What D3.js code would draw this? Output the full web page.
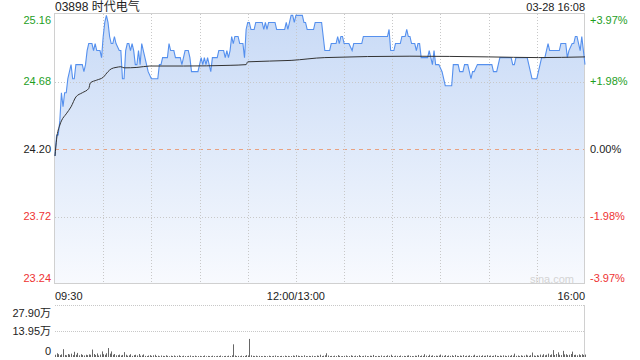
<!DOCTYPE html>
<html>
<head>
<meta charset="utf-8">
<script src="https://cdn.jsdelivr.net/npm/d3@7"></script>
<style>
  body { margin: 0; background: #fff; }
  svg text { font-family: "Liberation Sans", Arial, "Noto Sans CJK SC", sans-serif; }
</style>
</head>
<body>
<svg id="chart" width="640" height="360"></svg>
<script>
// quote
var title = "03898 时代电气";
var stamp = "03-28 16:08";
var prevClose = 24.2;

// price axis
var priceTicks = [25.16, 24.68, 24.2, 23.72, 23.24];
var pctTicks = ["+3.97%", "+1.98%", "0.00%", "-1.98%", "-3.97%"];

// time axis
var timeLabels = ["09:30", "12:00/13:00", "16:00"];
var timeLabelAt = ["09:30", "12:00", "16:00"];
var gridTimes = ["10:00", "10:30", "11:00", "11:30", "12:00", "13:30", "14:00", "14:30", "15:00", "15:30"];

// last price (turning points)
var priceTimes = [
  "09:30","09:31","09:32","09:33","09:34","09:35","09:36","09:37","09:38","09:40",
  "09:41","09:42","09:43","09:47","09:48","09:49","09:50","09:51","09:53","09:54",
  "09:55","09:56","09:58","09:59","10:00","10:01","10:02","10:03","10:04","10:05",
  "10:06","10:07","10:08","10:10","10:11","10:12","10:13","10:14","10:15","10:16",
  "10:17","10:18","10:19","10:20","10:21","10:22","10:23","10:24","10:25","10:27",
  "10:28","10:30","10:34","10:35","10:36","10:37","10:40","10:41","10:42","10:44",
  "10:45","10:48","10:49","10:50","10:51","10:53","10:54","10:55","10:59","11:00",
  "11:01","11:02","11:03","11:04","11:05","11:06","11:07","11:08","11:11","11:12",
  "11:15","11:16","11:17","11:18","11:19","11:20","11:21","11:22","11:24","11:25",
  "11:27","11:28","11:29","11:30","11:31","11:32","11:34","11:35","11:39","11:40",
  "11:41","11:42","11:43","11:47","11:48","11:53","11:54","11:55","11:56","11:57",
  "11:58","11:59","12:00","13:04","13:05","13:06","13:07","13:11","13:12","13:16",
  "13:18","13:21","13:22","13:25","13:26","13:27","13:28","13:29","13:30","13:33",
  "13:35","13:36","13:41","13:42",
  "13:57","13:58","13:59","14:01","14:02","14:05","14:06","14:08","14:09","14:10",
  "14:11","14:12","14:14","14:15","14:16","14:17","14:18","14:22","14:23","14:24",
  "14:25","14:26","14:27","14:29","14:31","14:33","14:37","14:38","14:41","14:42",
  "14:44","14:45","14:47","14:48","14:49","14:50","14:51","14:53","15:02","15:03",
  "15:05","15:07","15:14","15:15","15:16","15:17","15:24","15:25","15:26","15:27",
  "15:30","15:31","15:32","15:33","15:35","15:36","15:37","15:38","15:40","15:44",
  "15:45","15:48","15:49","15:50","15:52","15:53","15:54","15:55","15:56","15:57",
  "15:58","15:59","16:00"
];
var prices = [
  24.15,24.30,24.30,24.40,24.60,24.50,24.60,24.60,24.70,24.80,
  24.70,24.70,24.80,24.80,24.75,24.80,24.90,24.95,24.95,24.90,
  24.95,24.90,24.90,24.85,25.00,25.10,25.15,25.10,25.00,24.95,
  24.95,25.00,24.95,24.90,24.90,24.70,24.70,24.90,24.95,24.95,
  24.90,24.95,24.90,24.80,24.80,24.90,24.80,24.95,24.90,24.80,
  24.75,24.70,24.70,24.80,24.80,24.85,24.85,24.95,24.90,24.90,
  24.85,24.85,24.80,24.85,24.90,24.90,24.85,24.75,24.75,24.80,
  24.85,24.80,24.85,24.80,24.85,24.80,24.75,24.85,24.85,24.90,
  24.90,24.85,24.90,24.85,24.90,25.00,24.95,25.00,25.00,24.95,
  24.95,24.85,25.05,25.10,25.10,25.05,25.05,25.10,25.10,25.05,
  25.10,25.05,25.10,25.10,25.05,25.05,25.10,25.05,25.10,25.15,
  25.15,25.10,25.15,25.15,25.10,25.10,25.05,25.05,25.10,25.10,
  24.90,24.90,24.95,24.95,25.00,24.95,25.00,25.00,24.95,24.95,
  24.90,24.95,24.95,25.00,
  25.00,25.05,24.90,24.90,24.95,24.95,25.00,25.00,25.05,25.00,
  25.00,24.95,24.95,24.90,24.95,24.95,24.85,24.85,24.90,24.85,
  24.80,24.90,24.80,24.80,24.75,24.65,24.65,24.80,24.80,24.75,
  24.75,24.80,24.80,24.75,24.70,24.75,24.75,24.80,24.80,24.75,
  24.75,24.85,24.85,24.80,24.80,24.85,24.85,24.80,24.75,24.70,
  24.70,24.75,24.80,24.85,24.85,24.90,24.95,24.90,24.90,24.90,
  24.95,24.95,24.85,24.90,24.95,24.95,25.00,25.00,24.95,24.90,
  25.00,24.90,24.80
];

// average price
var avgTimes = ["09:30","09:31","09:33","09:34","09:37","09:40","09:43","09:47","09:51","09:52",
  "09:56","10:00","10:03","10:05","10:08","10:11","10:13","10:21","10:29","10:50",
  "11:19","11:29","11:30","11:57","13:18","14:11","15:00","15:31","16:00"];
var avgPrices = [24.15,24.27,24.37,24.40,24.45,24.50,24.57,24.60,24.63,24.67,
  24.69,24.71,24.75,24.77,24.78,24.785,24.777,24.78,24.79,24.79,
  24.795,24.80,24.82,24.83,24.85,24.86,24.855,24.85,24.855];

// volume per minute, 万股
var volTicks = [27.9, 13.95, 0];
var volLabels = ["27.90万", "13.95万", "0"];
var volumes = [
  1.2,2.0,1.5,1.0,1.4,4.2,1.1,0.9,1.6,1.3,
  1.8,1.0,2.8,1.2,2.2,0.9,1.5,1.1,0.8,1.2,
  1.0,1.4,1.2,4.0,1.6,1.1,1.9,0.8,1.3,3.0,
  1.5,1.2,2.0,4.8,1.8,3.0,1.2,1.6,0.9,1.0,
  1.3,0.8,1.1,2.6,1.2,0.7,0.9,1.5,0.6,1.0,
  1.2,0.8,1.6,0.7,0.9,1.4,0.6,0.5,0.8,1.0,
  0.6,0.9,1.2,0.5,0.7,0.4,0.8,0.6,0.5,0.9,
  0.6,0.4,0.7,0.5,0.8,0.4,0.6,0.9,0.5,0.4,
  0.7,0.5,0.4,0.6,0.8,0.4,0.5,0.7,0.4,0.5,
  0.6,0.4,0.5,0.8,0.4,0.6,0.5,0.4,0.7,0.5,
  0.4,0.6,0.5,0.8,0.4,0.5,0.6,0.4,0.7,0.5,
  0.9,6.8,0.8,0.5,0.6,0.4,0.7,0.5,0.6,1.0,
  0.8,9.7,0.9,0.6,0.5,0.7,0.4,0.6,0.5,0.4,
  0.6,0.5,0.4,0.7,0.5,0.4,0.6,0.8,0.5,0.4,
  0.5,0.6,0.4,0.7,0.5,0.6,0.4,0.5,0.8,0.6,
  1.0,0.7,0.5,0.6,0.4,0.9,0.5,0.4,0.6,0.5,
  0.7,0.5,0.4,0.8,0.6,1.2,0.5,0.7,0.9,2.0,
  0.8,0.5,0.6,0.4,0.7,0.5,1.0,0.6,0.4,0.5,
  0.6,0.8,0.4,0.5,0.9,0.6,0.4,0.7,0.5,1.0,
  0.5,0.4,0.6,0.8,0.5,0.4,0.7,0.6,1.1,0.5,
  0.4,0.6,0.5,0.8,0.4,0.6,0.5,0.9,0.6,1.2,
  0.5,0.4,0.7,0.6,0.5,0.8,0.4,0.6,0.5,0.7,
  0.9,0.6,0.5,0.4,0.7,0.6,1.1,0.5,0.8,0.6,
  1.5,0.7,0.5,1.2,0.6,0.9,0.5,0.7,0.6,0.8,
  1.3,0.7,0.6,1.0,0.5,0.8,0.6,0.9,0.5,1.1,
  0.6,0.5,0.8,0.6,1.0,0.5,0.7,0.6,0.9,0.5,
  0.7,1.2,0.5,0.6,0.8,0.5,0.9,0.6,0.7,1.0,
  0.6,0.8,0.5,0.7,1.1,0.6,0.5,0.8,0.6,0.9,
  0.7,0.5,0.8,0.6,1.0,0.7,1.8,0.6,0.8,0.5,
  0.9,0.6,0.7,1.2,0.8,0.6,1.0,2.4,0.8,0.6,
  1.0,0.7,1.3,0.8,1.5,0.9,1.2,1.8,1.0,1.4,
  3.7,1.1,1.6,2.5,1.2,1.0,3.3,1.4,1.5,1.0,
  1.2,1.6,2.9,1.1,1.2,0.9,1.4,1.0,1.5,1.1,
  1.3
];

var green = "#1e9e1e", red = "#ee3333", ink = "#222";

// minutes since open, lunch break folded out
function minuteOf(t) {
  var p = t.split(":"), m = +p[0] * 60 + +p[1];
  return m <= 720 ? m - 570 : m - 780 + 150;
}

var svg = d3.select("#chart");
var pLeft = 55, pRight = 585, pTop = 14, pBottom = 284;
var vTop = 305, vBottom = 357;

var x = d3.scaleLinear().domain([0, 330]).range([pLeft, pRight]);
var y = d3.scaleLinear().domain([23.24, 25.16]).range([pBottom, pTop]);
var yv = d3.scaleLinear().domain([0, 27.9]).range([vBottom, vTop]);

var defs = svg.append("defs");
var grad = defs.append("linearGradient").attr("id", "fill")
  .attr("x1", 0).attr("y1", 0).attr("x2", 0).attr("y2", 1);
grad.append("stop").attr("offset", "0%").attr("stop-color", "#c8daf6");
grad.append("stop").attr("offset", "100%").attr("stop-color", "#f8fafe");

var pts = priceTimes.map(function (t, i) { return { m: minuteOf(t), p: prices[i] }; });
var avg = avgTimes.map(function (t, i) { return { m: minuteOf(t), p: avgPrices[i] }; });

// area under price
svg.append("path")
  .datum(pts)
  .attr("fill", "url(#fill)")
  .attr("d", d3.area().x(function (d) { return x(d.m); }).y0(pBottom).y1(function (d) { return y(d.p); }));

// horizontal grid
svg.selectAll(".hgrid")
  .data([priceTicks[1], priceTicks[3]])
  .enter().append("line")
  .attr("x1", pLeft).attr("x2", pRight)
  .attr("y1", function (d) { return Math.round(y(d)) + 0.5; })
  .attr("y2", function (d) { return Math.round(y(d)) + 0.5; })
  .attr("stroke", "#c8c8c8").attr("stroke-dasharray", "1,2");

svg.append("line")
  .attr("x1", pLeft).attr("x2", pRight)
  .attr("y1", Math.round(y(prevClose)) + 0.5).attr("y2", Math.round(y(prevClose)) + 0.5)
  .attr("stroke", "#e9a282").attr("stroke-dasharray", "4,4");

// vertical grid
svg.selectAll(".vgrid")
  .data(gridTimes)
  .enter().append("line")
  .attr("x1", function (d) { return Math.round(x(minuteOf(d))) + 0.5; })
  .attr("x2", function (d) { return Math.round(x(minuteOf(d))) + 0.5; })
  .attr("y1", pTop).attr("y2", pBottom)
  .attr("stroke", "#c8c8c8").attr("stroke-dasharray", "1,2");

// frame
svg.append("rect")
  .attr("x", pLeft - 0.5).attr("y", pTop - 0.5)
  .attr("width", pRight - pLeft).attr("height", pBottom - pTop)
  .attr("fill", "none").attr("stroke", "#d0d0d0");

svg.append("text")
  .attr("x", 552).attr("y", 283)
  .attr("text-anchor", "middle")
  .style("font-size", "11px").style("fill", "#d4d4d4")
  .text("sina.com");

// price and average lines
svg.append("path")
  .datum(pts)
  .attr("fill", "none").attr("stroke", "#5590ee").attr("stroke-width", 1.1)
  .attr("d", d3.line().x(function (d) { return x(d.m); }).y(function (d) { return y(d.p); }));

svg.append("path")
  .datum(avg)
  .attr("fill", "none").attr("stroke", "#333").attr("stroke-width", 1)
  .attr("d", d3.line().curve(d3.curveMonotoneX).x(function (d) { return x(d.m); }).y(function (d) { return y(d.p); }));

// price labels
function tickColor(i) { return i < 2 ? green : (i === 2 ? ink : red); }
function tickShift(i) { return i === 0 ? 6 : (i === 4 ? -6 : 0); }

svg.selectAll(".pl")
  .data(priceTicks)
  .enter().append("text")
  .attr("x", 51)
  .attr("y", function (d, i) { return y(d) + tickShift(i); })
  .attr("dy", "0.35em")
  .attr("text-anchor", "end")
  .style("font-size", "11px")
  .style("fill", function (d, i) { return tickColor(i); })
  .text(function (d) { return d.toFixed(2); });

svg.selectAll(".pc")
  .data(pctTicks)
  .enter().append("text")
  .attr("x", 590)
  .attr("y", function (d, i) { return y(priceTicks[i]) + tickShift(i); })
  .attr("dy", "0.35em")
  .style("font-size", "11px")
  .style("fill", function (d, i) { return tickColor(i); })
  .text(function (d) { return d; });

// title line
svg.append("text").attr("x", pLeft).attr("y", 11)
  .style("font-size", "12px").style("fill", ink).text(title);
svg.append("text").attr("x", pRight).attr("y", 11).attr("text-anchor", "end")
  .style("font-size", "11px").style("fill", ink).text(stamp);

// time labels
svg.selectAll(".tl")
  .data(timeLabels)
  .enter().append("text")
  .attr("x", function (d, i) { return x(minuteOf(timeLabelAt[i])); })
  .attr("y", 300)
  .attr("text-anchor", function (d, i) { return i === 0 ? "start" : (i === 1 ? "middle" : "end"); })
  .style("font-size", "11px").style("fill", ink)
  .text(function (d) { return d; });

// volume panel
svg.selectAll(".vg")
  .data([volTicks[0], volTicks[1]])
  .enter().append("line")
  .attr("x1", pLeft).attr("x2", pRight)
  .attr("y1", function (d) { return Math.round(yv(d)) + 0.5; })
  .attr("y2", function (d) { return Math.round(yv(d)) + 0.5; })
  .attr("stroke", "#c8c8c8").attr("stroke-dasharray", "1,1");

svg.append("line")
  .attr("x1", pRight - 0.5).attr("x2", pRight - 0.5)
  .attr("y1", vTop).attr("y2", vBottom)
  .attr("stroke", "#d0d0d0");

svg.selectAll(".vb")
  .data(volumes)
  .enter().append("line")
  .attr("x1", function (d, i) { return Math.round(x(i)) + 0.5; })
  .attr("x2", function (d, i) { return Math.round(x(i)) + 0.5; })
  .attr("y1", vBottom)
  .attr("y2", function (d) { return yv(d); })
  .attr("stroke", "#666");

svg.selectAll(".vl")
  .data(volLabels)
  .enter().append("text")
  .attr("x", 51)
  .attr("y", function (d, i) { return yv(volTicks[i]) + (i === 0 ? 8 : (i === 2 ? -6 : 0)); })
  .attr("dy", "0.35em")
  .attr("text-anchor", "end")
  .style("font-size", "11px").style("fill", ink)
  .text(function (d) { return d; });
</script>
</body>
</html>
